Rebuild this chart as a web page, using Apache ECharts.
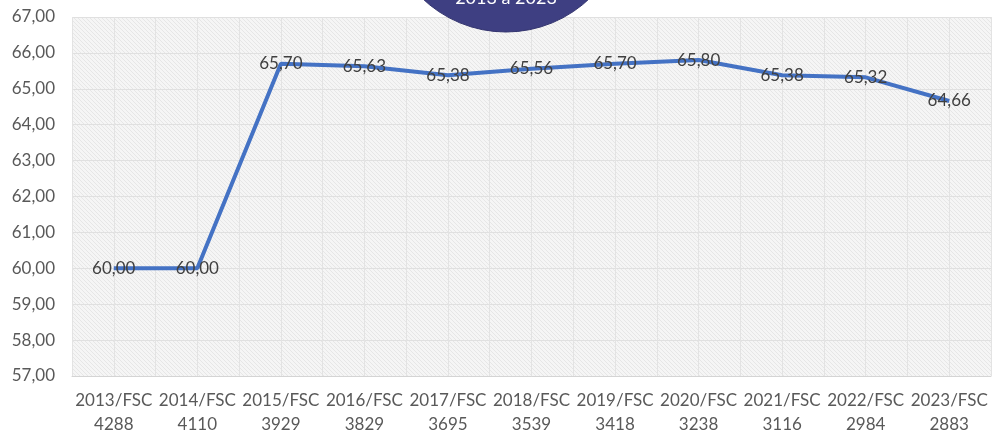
<!DOCTYPE html>
<html>
<head>
<meta charset="utf-8">
<script src="https://cdn.jsdelivr.net/npm/echarts@6/dist/echarts.min.js"></script>
<style>
  html, body { margin: 0; padding: 0; background: #ffffff; }
  #chart { width: 994px; height: 437px; }
</style>
</head>
<body>
<div id="chart"></div>
<script>
// Academic years and the number of students each year
const years = ['2013', '2014', '2015', '2016', '2017', '2018', '2019', '2020', '2021', '2022', '2023'];
const students = ['4288', '4110', '3929', '3829', '3695', '3539', '3418', '3238', '3116', '2984', '2883'];
// Yearly values plotted on the line
const values = [60.00, 60.00, 65.70, 65.63, 65.38, 65.56, 65.70, 65.80, 65.38, 65.32, 64.66];
// Y axis range
const yMin = 57, yMax = 67, yStep = 1;
const periodLabel = '2013 a 2023';

const categories = years.map((y, i) => y + '/FSC\n' + students[i]);
const fmt = v => Number(v).toFixed(2).replace('.', ',');

// Small diagonal-hatch tile for the plot background
function hatchTile() {
  const c = document.createElement('canvas');
  c.width = 4; c.height = 4;
  const ctx = c.getContext('2d');
  ctx.fillStyle = '#f5f5f5';
  ctx.fillRect(0, 0, 4, 4);
  ctx.fillStyle = '#e6e6e6';
  for (let i = 0; i < 4; i++) ctx.fillRect(i, i, 1, 1);
  return c;
}

const chart = echarts.init(document.getElementById('chart'), null, { renderer: 'canvas' });
const font = 'Lato, "Open Sans", sans-serif';

chart.setOption({
  animation: false,
  backgroundColor: '#ffffff',
  grid: {
    left: 72, right: 3, top: 17, bottom: 61,
    outerBoundsMode: 'none',
    containLabel: false,
    show: true,
    borderWidth: 0,
    backgroundColor: { image: hatchTile(), repeat: 'repeat' }
  },
  xAxis: [
    {
      type: 'category',
      data: categories,
      boundaryGap: true,
      axisLine: { show: true, lineStyle: { color: '#d4d4d4', width: 1 } },
      axisTick: { show: false },
      splitLine: { show: false },
      axisLabel: {
        interval: 0,
        margin: 13,
        color: '#595959',
        fontFamily: font,
        fontSize: 17,
        lineHeight: 24,
        align: 'center'
      }
    },
    {
      // helper axis for the half-category vertical grid lines
      type: 'value',
      min: 0, max: 22, interval: 1,
      position: 'bottom',
      show: true,
      axisLine: { show: false },
      axisTick: { show: false },
      axisLabel: { show: false },
      splitLine: { show: true, lineStyle: { color: '#e3e3e3', width: 1 } }
    }
  ],
  yAxis: {
    type: 'value',
    min: yMin, max: yMax, interval: yStep,
    axisLine: { show: false },
    axisTick: { show: false },
    splitLine: { show: true, lineStyle: { color: '#e0e0e0', width: 1 } },
    axisLabel: {
      margin: 17,
      color: '#595959',
      fontFamily: font,
      fontSize: 17,
      formatter: v => fmt(v)
    }
  },
  series: [{
    type: 'line',
    xAxisIndex: 0,
    data: values,
    symbol: 'circle',
    symbolSize: 2,
    showSymbol: true,
    itemStyle: { color: 'rgba(68,114,196,0)', borderWidth: 0 },
    lineStyle: { color: '#4472c4', width: 4 },
    label: {
      show: true,
      position: 'inside',
      color: '#404040',
      fontFamily: font,
      fontSize: 17,
      formatter: p => fmt(p.value)
    },
    labelLayout: { hideOverlap: false },
    z: 3
  }],
  graphic: [
    {
      type: 'circle',
      shape: { cx: 506, cy: -89, r: 121 },
      style: { fill: '#3e3f82', stroke: '#34356f', lineWidth: 1 },
      z: 100
    },
    {
      type: 'text',
      x: 506, y: 7,
      style: {
        text: periodLabel,
        fill: '#ffffff',
        font: '18px ' + font,
        textAlign: 'center',
        textVerticalAlign: 'bottom'
      },
      z: 101
    }
  ]
});
</script>
</body>
</html>
